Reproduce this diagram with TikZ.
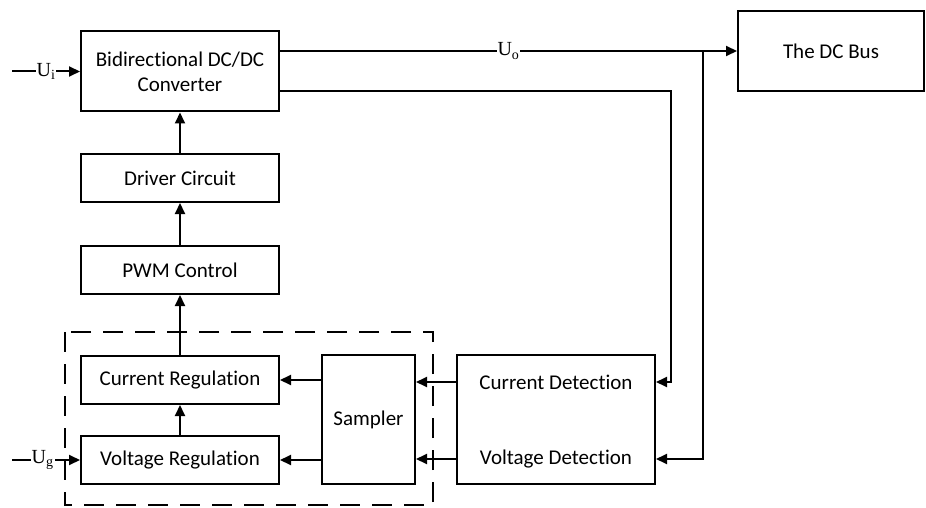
\documentclass[tikz,border=0pt]{standalone}
\usepackage{fontspec}
\setmainfont{Carlito}[Ligatures=NoCommon]
\newfontfamily\ufont{Liberation Serif}
\usetikzlibrary{arrows.meta}
\tikzset{
  blk/.style={draw, line width=2pt, minimum width=198pt, minimum height=48pt, inner sep=0pt, align=center},
  arr/.style={line width=2pt, -{Triangle[length=11pt,width=10pt]}},
  ulab/.style={fill=white, inner sep=1pt, font=\ufont\fontsize{20}{22}\selectfont},
}
\begin{document}
\begin{tikzpicture}[x=1pt, y=-1pt, font=\fontsize{21}{25}\selectfont, line join=miter]
  \useasboundingbox (0,0) rectangle (926,508);
  % blocks
  \node[blk, minimum height=80pt] (conv) at (180,71.5) {Bidirectional DC/DC\\Converter};
  \node[blk, minimum width=186pt, minimum height=80pt] (bus) at (831,51) {The DC Bus};
  \node[blk] (drv) at (180,178) {Driver Circuit};
  \node[blk] (pwm) at (180,270) {PWM Control};
  \node[blk] (creg) at (180,380) {Current Regulation};
  \node[blk] (vreg) at (180,460) {Voltage Regulation};
  \node[blk, minimum width=93pt, minimum height=129pt] (samp) at (368.5,419.5) {Sampler};
  \node[blk, minimum height=129pt] (det) at (556,419.5) {};
  \node (cdet) at (556,382) {Current Detection};
  \node (vdet) at (556,459) {Voltage Detection};
  % control loop frame
  \draw[line width=2pt, dash pattern=on 20pt off 12pt] (65,332) rectangle (433,505);
  % inputs
  \coordinate (ui) at (12,71.5);
  \coordinate (ug) at (12,460);
  \draw[arr] (ui) -- node[ulab]{U\textsubscript{i}} (conv.west);
  \draw[arr] (ug) -- node[ulab, pos=0.45]{U\textsubscript{g}} (vreg.west);
  % forward path
  \draw[arr] (drv) -- (conv);
  \draw[arr] (pwm) -- (drv);
  \draw[arr] (creg) -- (pwm);
  \draw[arr] (vreg) -- (creg);
  % output and feedback
  \coordinate (jn) at (703,51);
  \draw[arr] (conv.east |- jn) -- node[ulab, pos=0.5]{U\textsubscript{o}} (bus.west);
  \draw[arr] (conv.east |- 0,91) -| (671,382) -- (det.east |- cdet);
  \draw[arr] (jn) |- (det.east |- vdet);
  \draw[arr] (det.west |- cdet) -- (samp.east |- cdet);
  \draw[arr] (det.west |- vdet) -- (samp.east |- vdet);
  \draw[arr] (samp.west |- creg) -- (creg.east);
  \draw[arr] (samp.west |- vreg) -- (vreg.east);
\end{tikzpicture}
\end{document}
